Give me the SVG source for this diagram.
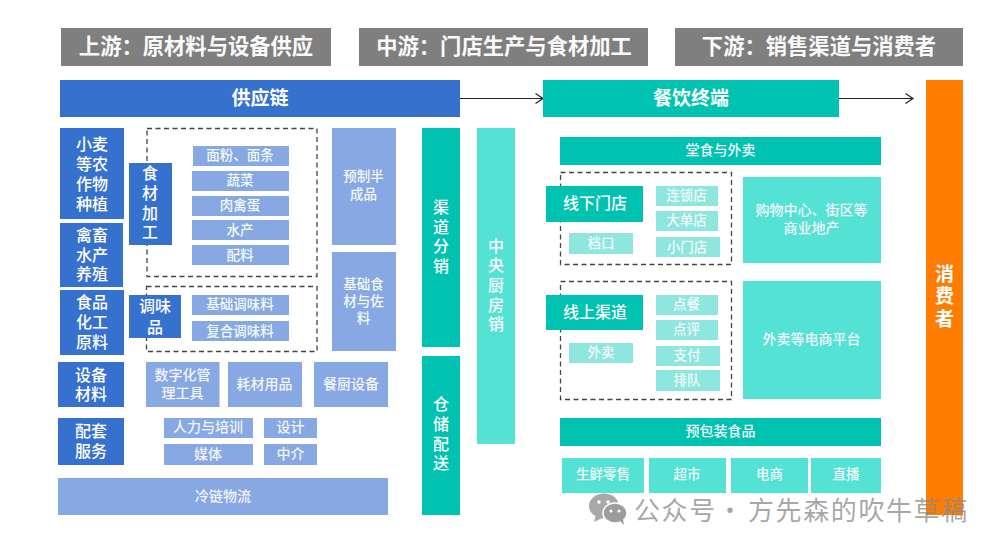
<svg xmlns="http://www.w3.org/2000/svg" width="1000" height="549" viewBox="0 0 1000 549">
<style>
text{font-family:"Noto Sans CJK SC","Noto Sans",sans-serif;fill:#fff;text-anchor:middle;dominant-baseline:central;transform:translateY(-1.5px)}
.gr{fill:#7f7f7f}.bl{fill:#3771ce}.lb{fill:#87a8e2}.te{fill:#00c2b0}.lt{fill:#54e2d5}.pt{fill:#8fe6de}.or{fill:#ff7c00}
.h{font-size:21.300px;font-weight:700;fill:#fafafa}.t{font-size:19px;font-weight:700}.m{font-size:16px;font-weight:500}.s{font-size:14px;font-weight:500;fill:#f2f6fc}.x{font-size:13.500px;font-weight:500;fill:#f2fbfa}
.d{fill:none;stroke:#444;stroke-width:1.3;stroke-dasharray:5 3.5}
.c{fill:none;stroke:#222;stroke-width:1.2}
</style>
<defs><marker id="a" markerWidth="10" markerHeight="12" refX="8.500" refY="6" orient="auto" markerUnits="userSpaceOnUse"><path d="M1 1L8.500 6L1 11" fill="none" stroke="#222" stroke-width="1.2"/></marker></defs>
<rect width="1000" height="549" fill="#fff"/>
<g id="stage-up"><rect class="gr" x="61" y="28" width="270" height="38"/><text class="h" x="196" y="46">上游：原材料与设备供应</text></g>
<g id="stage-mid"><rect class="gr" x="359" y="28" width="289" height="38"/><text class="h" x="504" y="46">中游：门店生产与食材加工</text></g>
<g id="stage-down"><rect class="gr" x="675" y="28" width="288" height="38"/><text class="h" x="819" y="46">下游：销售渠道与消费者</text></g>
<g id="connectors"><path class="c" d="M460 98.500H543" marker-end="url(#a)"/><path class="c" d="M839 98.500H913" marker-end="url(#a)"/></g>
<g id="supply"><rect class="bl" x="60" y="80" width="400" height="37"/><text class="t" x="260" y="98">供应链</text></g>
<g id="terminal"><rect class="te" x="543" y="80" width="296" height="37"/><text class="t" x="691" y="98">餐饮终端</text></g>
<g id="consumer"><rect class="or" x="926" y="80" width="37" height="435"/><text class="t"><tspan x="944.500" y="273">消</tspan><tspan x="944.500" y="295.500">费</tspan><tspan x="944.500" y="318">者</tspan></text></g>

<g id="dash-food"><rect class="d" x="147" y="128.500" width="170" height="148"/></g>
<g id="dash-season"><rect class="d" x="146.500" y="286.500" width="170.500" height="65"/></g>
<g id="dash-offline"><rect class="d" x="560.500" y="172.500" width="171" height="92"/></g>
<g id="dash-online"><rect class="d" x="560.500" y="281.500" width="171" height="118"/></g>

<g id="wheat"><rect class="bl" x="60" y="128" width="64" height="91"/><text class="m"><tspan x="92" y="144">小麦</tspan><tspan x="92" y="164">等农</tspan><tspan x="92" y="184">作物</tspan><tspan x="92" y="204">种植</tspan></text></g>
<g id="livestock"><rect class="bl" x="60" y="223" width="63" height="64"/><text class="m"><tspan x="92" y="235">禽畜</tspan><tspan x="92" y="255">水产</tspan><tspan x="92" y="274">养殖</tspan></text></g>
<g id="chem"><rect class="bl" x="60" y="290" width="64" height="65"/><text class="m"><tspan x="92" y="302">食品</tspan><tspan x="92" y="322">化工</tspan><tspan x="92" y="342">原料</tspan></text></g>
<g id="equip"><rect class="bl" x="58" y="362" width="66" height="45"/><text class="m"><tspan x="91" y="375">设备</tspan><tspan x="91" y="394">材料</tspan></text></g>
<g id="service"><rect class="bl" x="58" y="418" width="66" height="47"/><text class="m"><tspan x="91" y="431">配套</tspan><tspan x="91" y="451">服务</tspan></text></g>
<g id="food-proc"><rect class="bl" x="129" y="163" width="43" height="82"/><text class="m"><tspan x="150" y="173">食</tspan><tspan x="150" y="193">材</tspan><tspan x="150" y="213">加</tspan><tspan x="150" y="232">工</tspan></text></g>
<g id="season"><rect class="bl" x="129" y="295" width="52" height="43"/><text class="m"><tspan x="155" y="306">调味</tspan><tspan x="155" y="327">品</tspan></text></g>

<g id="flour"><rect class="lb" x="193" y="146" width="96" height="20"/><text class="x" x="240" y="155.500">面粉、面条</text></g>
<g id="veg"><rect class="lb" x="192" y="171" width="97" height="20"/><text class="x" x="240" y="180.500">蔬菜</text></g>
<g id="meat"><rect class="lb" x="192" y="196" width="97" height="20"/><text class="x" x="240" y="205.500">肉禽蛋</text></g>
<g id="aqua"><rect class="lb" x="192" y="220" width="97" height="20"/><text class="x" x="240" y="230">水产</text></g>
<g id="ingredients"><rect class="lb" x="192" y="245" width="97" height="20"/><text class="x" x="240" y="255">配料</text></g>
<g id="base-season"><rect class="lb" x="192" y="295" width="97" height="20"/><text class="x" x="240" y="304.500">基础调味料</text></g>
<g id="comp-season"><rect class="lb" x="192" y="321" width="97" height="20"/><text class="x" x="240" y="331">复合调味料</text></g>
<g id="prepared"><rect class="lb" x="332" y="128" width="64" height="117"/><text class="x"><tspan x="363.500" y="176.500">预制半</tspan><tspan x="363.500" y="194">成品</tspan></text></g>
<g id="basic-food"><rect class="lb" x="332" y="252" width="64" height="99"/><text class="x"><tspan x="363.500" y="284">基础食</tspan><tspan x="363.500" y="301">材与佐</tspan><tspan x="363.500" y="318">料</tspan></text></g>
<g id="digital"><rect class="lb" x="146" y="362" width="73.500" height="45"/><text class="s"><tspan x="182.500" y="375.500">数字化管</tspan><tspan x="182.500" y="393">理工具</tspan></text></g>
<g id="consume"><rect class="lb" x="228" y="362" width="74" height="45"/><text class="s" x="264.500" y="384.500">耗材用品</text></g>
<g id="kitchen"><rect class="lb" x="314" y="362" width="74" height="45"/><text class="s" x="351" y="384.500">餐厨设备</text></g>
<g id="hr"><rect class="lb" x="164" y="418" width="89" height="20"/><text class="s" x="208" y="427.500">人力与培训</text></g>
<g id="design"><rect class="lb" x="264" y="418" width="53" height="20"/><text class="s" x="290.500" y="427.500">设计</text></g>
<g id="media"><rect class="lb" x="164" y="444" width="89" height="21"/><text class="s" x="208" y="454">媒体</text></g>
<g id="agent"><rect class="lb" x="264" y="444" width="53" height="21"/><text class="s" x="290.500" y="454">中介</text></g>
<g id="cold"><rect class="lb" x="58" y="478" width="330" height="37"/><text class="s" x="223" y="496">冷链物流</text></g>

<g id="distribution"><rect class="te" x="422" y="128" width="38" height="219"/><text class="m"><tspan x="441" y="207">渠</tspan><tspan x="441" y="227">道</tspan><tspan x="441" y="246">分</tspan><tspan x="441" y="266">销</tspan></text></g>
<g id="warehouse"><rect class="te" x="422" y="356" width="38" height="159"/><text class="m"><tspan x="441" y="404">仓</tspan><tspan x="441" y="424">储</tspan><tspan x="441" y="444">配</tspan><tspan x="441" y="463">送</tspan></text></g>
<g id="central"><rect class="lt" x="477" y="128" width="38" height="316"/><text class="m"><tspan x="496" y="246">中</tspan><tspan x="496" y="265">央</tspan><tspan x="496" y="285">厨</tspan><tspan x="496" y="305">房</tspan><tspan x="496" y="324">销</tspan></text></g>

<g id="dine"><rect class="te" x="560" y="137" width="321" height="28"/><text class="s" x="720.500" y="150">堂食与外卖</text></g>
<g id="offline"><rect class="te" x="546" y="186" width="97" height="36"/><text class="m" x="595" y="203">线下门店</text></g>
<g id="chain"><rect class="pt" x="656" y="186" width="62" height="20"/><text class="x" x="686.500" y="195.500">连锁店</text></g>
<g id="big"><rect class="pt" x="656" y="211" width="62" height="20"/><text class="x" x="686.500" y="220.500">大单店</text></g>
<g id="small"><rect class="pt" x="656" y="237" width="64" height="20"/><text class="x" x="687" y="247">小门店</text></g>
<g id="stall"><rect class="pt" x="569" y="233" width="64" height="21"/><text class="x" x="601" y="243.500">档口</text></g>
<g id="mall"><rect class="lt" x="743" y="177" width="138" height="86"/><text class="s"><tspan x="811.500" y="210.500">购物中心、街区等</tspan><tspan x="811.500" y="228.500">商业地产</tspan></text></g>
<g id="online"><rect class="te" x="546" y="295" width="97" height="35"/><text class="m" x="595" y="312">线上渠道</text></g>
<g id="order"><rect class="pt" x="656" y="295" width="62" height="20"/><text class="x" x="686.500" y="304.500">点餐</text></g>
<g id="review"><rect class="pt" x="656" y="320" width="62" height="20"/><text class="x" x="686.500" y="329.500">点评</text></g>
<g id="pay"><rect class="pt" x="656" y="346" width="64" height="20"/><text class="x" x="687" y="355.500">支付</text></g>
<g id="queue"><rect class="pt" x="656" y="370" width="64" height="21"/><text class="x" x="687" y="380">排队</text></g>
<g id="takeout"><rect class="pt" x="569" y="343" width="64" height="20"/><text class="x" x="601" y="352">外卖</text></g>
<g id="platform"><rect class="lt" x="743" y="281" width="138" height="118"/><text class="s" x="811.500" y="339.500">外卖等电商平台</text></g>
<g id="packaged"><rect class="te" x="560" y="418" width="321" height="28"/><text class="s" x="720.500" y="431.500">预包装食品</text></g>
<g id="fresh"><rect class="lt" x="562" y="458" width="82" height="35"/><text class="x" x="603" y="474.500">生鲜零售</text></g>
<g id="market"><rect class="lt" x="649" y="458" width="77" height="35"/><text class="x" x="687" y="474.500">超市</text></g>
<g id="ecom"><rect class="lt" x="731" y="458" width="77" height="35"/><text class="x" x="769.500" y="474.500">电商</text></g>
<g id="live"><rect class="lt" x="811" y="458" width="70" height="35"/><text class="x" x="846" y="474.500">直播</text></g>

<g id="watermark">
<ellipse cx="604" cy="506" rx="15" ry="12.500" fill="#a8a8a8"/><path d="M596 515l-2 7 8-4z" fill="#a8a8a8"/>
<ellipse cx="615" cy="513" rx="12" ry="10" fill="#9c9c9c" stroke="#fff" stroke-width="1.500"/><path d="M620 521l4 4-1-6z" fill="#9c9c9c"/>
<circle cx="599" cy="502" r="1.800" fill="#fff"/><circle cx="608" cy="502" r="1.800" fill="#fff"/><circle cx="611" cy="511" r="1.500" fill="#fff"/><circle cx="619" cy="511" r="1.500" fill="#fff"/>
<text y="509" style="font-size:26px;font-weight:400;fill:#8a8a8a;fill-opacity:.75;letter-spacing:1.600px;text-anchor:start"><tspan x="634">公众号</tspan><tspan x="717">·</tspan><tspan x="748">方先森的吹牛草稿</tspan></text>
</g>
</svg>
